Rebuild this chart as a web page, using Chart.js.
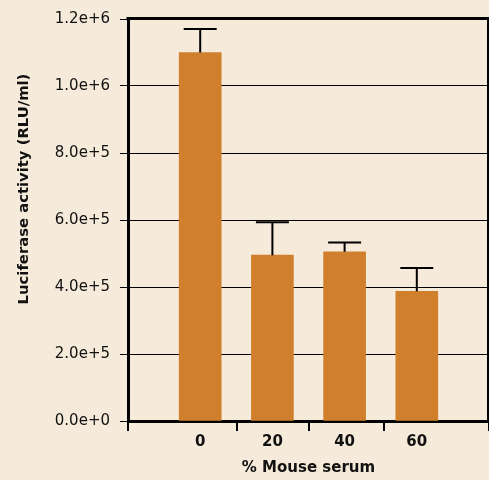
<!DOCTYPE html>
<html>
<head>
<meta charset="utf-8">
<script src="https://cdn.jsdelivr.net/npm/chart.js@4.4.1/dist/chart.umd.min.js"></script>
<style>
  html, body { margin: 0; padding: 0; background: #f6ebda; }
  #wrap { width: 489px; height: 480px; }
</style>
</head>
<body>
<div id="wrap"><canvas id="chart" width="489" height="480"></canvas></div>
<script>
// % mouse serum groups and luciferase readings
const categories = ['0', '20', '40', '60'];
const positions = [0, 1, 2, 3];
const activity = [1.10e6, 4.95e5, 5.05e5, 3.87e5];
const errorTop = [1.17e6, 5.93e5, 5.33e5, 4.57e5];
const dividerTicks = [-1, 0.51, 1.51, 2.55, 4];
const yMax = 1.2e6;
const yStep = 2e5;

const bg = '#f6ebda';
const barColor = '#d0802c';
const ink = '#111111';
const fontFamily = '"DejaVu Sans", sans-serif';

const points = positions.map((p, i) => ({ x: p, y: activity[i] }));

const background = {
    id: 'background',
    beforeDraw(chart) {
        const ctx = chart.ctx;
        ctx.save();
        ctx.fillStyle = bg;
        ctx.fillRect(0, 0, chart.width, chart.height);
        ctx.restore();
    }
};

const errorBars = {
    id: 'errorBars',
    afterDatasetsDraw(chart) {
        const ctx = chart.ctx;
        const x = chart.scales.x, y = chart.scales.y;
        ctx.save();
        ctx.strokeStyle = '#000';
        ctx.lineWidth = 2;
        positions.forEach((p, i) => {
            const px = x.getPixelForValue(p);
            const top = y.getPixelForValue(errorTop[i]);
            const base = y.getPixelForValue(activity[i]);
            ctx.beginPath();
            ctx.moveTo(px, base);
            ctx.lineTo(px, top);
            ctx.moveTo(px - 16.5, top);
            ctx.lineTo(px + 16.5, top);
            ctx.stroke();
        });
        ctx.restore();
    }
};

const frame = {
    id: 'frame',
    afterDraw(chart) {
        const ctx = chart.ctx;
        const a = chart.chartArea;
        ctx.save();
        ctx.strokeStyle = '#000';
        ctx.lineWidth = 3;
        ctx.beginPath();
        ctx.moveTo(a.left - 1.5, a.top - 0.5);
        ctx.lineTo(a.right, a.top - 0.5);
        ctx.stroke();
        ctx.lineWidth = 2;
        ctx.beginPath();
        ctx.moveTo(a.right - 1, a.top);
        ctx.lineTo(a.right - 1, a.bottom);
        ctx.stroke();

        // y axis title
        ctx.translate(24, 189);
        ctx.rotate(-Math.PI / 2);
        ctx.fillStyle = ink;
        ctx.font = 'bold 14.8px ' + fontFamily;
        ctx.textAlign = 'center';
        ctx.textBaseline = 'middle';
        ctx.fillText('Luciferase activity (RLU/ml)', 0, 0);
        ctx.restore();
    }
};

new Chart(document.getElementById('chart'), {
    type: 'bar',
    data: {
        datasets: [{
            data: points,
            backgroundColor: barColor,
            borderWidth: 0,
            barThickness: 42
        }]
    },
    options: {
        responsive: false,
        animation: false,
        layout: { padding: { top: 15, right: 0, left: 0, bottom: 0 } },
        plugins: {
            legend: { display: false },
            tooltip: { enabled: false }
        },
        scales: {
            x: {
                type: 'linear',
                min: -1,
                max: 4,
                offset: false,
                afterBuildTicks(scale) {
                    scale.ticks = positions.concat(dividerTicks)
                        .sort((a, b) => a - b)
                        .map(v => ({ value: v }));
                },
                afterFit(scale) {
                    scale.height = 59;
                    scale.paddingLeft = 0;
                    scale.paddingRight = 0;
                },
                grid: {
                    offset: false,
                    drawOnChartArea: false,
                    drawTicks: true,
                    tickLength: 10,
                    lineWidth: 2,
                    color: ctx => {
                        const v = ctx.tick ? ctx.tick.value : null;
                        return positions.includes(v) ? 'rgba(0,0,0,0)' : '#000';
                    }
                },
                border: { display: true, color: '#000', width: 3 },
                ticks: {
                    autoSkip: false,
                    maxRotation: 0,
                    padding: 2,
                    color: ink,
                    font: { family: fontFamily, size: 15, weight: 'bold' },
                    callback: v => {
                        const i = positions.indexOf(v);
                        return i >= 0 ? categories[i] : '';
                    }
                },
                title: {
                    display: true,
                    text: '% Mouse serum',
                    color: ink,
                    font: { family: fontFamily, size: 15, weight: 'bold' },
                    padding: { top: 0, bottom: 3 }
                }
            },
            y: {
                min: 0,
                max: yMax,
                afterFit(scale) { scale.width = 128; },
                ticks: {
                    stepSize: yStep,
                    padding: 10,
                    color: ink,
                    font: { family: fontFamily, size: 15 },
                    callback: v => Number(v).toExponential(1)
                },
                grid: {
                    color: '#000',
                    lineWidth: 1,
                    tickLength: 8
                },
                border: { display: true, color: '#000', width: 3 }
            }
        }
    },
    plugins: [background, errorBars, frame]
});
</script>
</body>
</html>
